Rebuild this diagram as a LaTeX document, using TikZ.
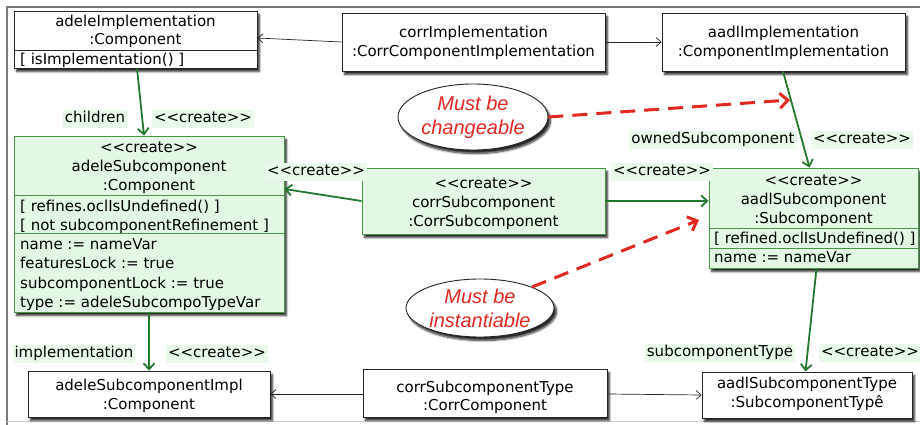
\documentclass[tikz,border=0pt]{standalone}
\usepackage{fontspec}
\newfontfamily\umlfont{DejaVu Sans}[Ligatures=TeXOff]
\newfontfamily\notefont{Liberation Sans}
\usetikzlibrary{arrows.meta,shapes.geometric,shadows.blur}
\definecolor{umlgreen}{RGB}{70,150,70}
\definecolor{umlfill}{RGB}{228,246,228}
\definecolor{tagfill}{RGB}{234,250,234}
\definecolor{linkgreen}{RGB}{35,120,45}
\definecolor{notered}{RGB}{226,40,32}
\definecolor{framegray}{RGB}{120,120,120}

\begin{document}
\begin{tikzpicture}[x=1pt,y=-1pt,
  boxshadow/.style={blur shadow={shadow xshift=2.5pt,shadow yshift=-3.5pt,shadow blur steps=8,shadow blur radius=2pt,shadow opacity=85}},
  objbox/.style={draw=black!85,line width=0.9pt,fill=white,boxshadow,inner sep=0pt},
  newbox/.style={draw=umlgreen,line width=0.9pt,fill=umlfill,boxshadow,inner sep=0pt},
  divider/.style={draw=black!85,line width=0.7pt},
  gdivider/.style={draw=umlgreen,line width=0.7pt},
  txt/.style={font=\umlfont\fontsize{15}{19}\selectfont,inner sep=0pt,anchor=base},
  txtl/.style={txt,anchor=base west},
  tag/.style={font=\umlfont\fontsize{15}{19}\selectfont,fill=tagfill,inner sep=2pt,text height=11pt,text depth=3.5pt},
  link/.style={draw=black!85,line width=0.7pt,-{Straight Barb[length=5pt,width=9pt]}},
  createlink/.style={draw=linkgreen,line width=1.8pt,-{Straight Barb[length=6pt,width=11pt]}},
  note/.style={ellipse,draw=black!85,line width=0.9pt,fill=white,boxshadow,inner sep=0pt,align=center,
    font=\notefont\itshape\fontsize{20}{24}\selectfont,text=notered},
  noteline/.style={draw=notered,line width=3pt,dash pattern=on 15pt off 9pt,-{Straight Barb[length=8pt,width=15pt]}}
]
\useasboundingbox (0,0) rectangle (920,425);

% page frame
\draw[framegray,line width=1.5pt] (7,425) -- (7,7) -- (920,7);
\draw[black!20,line width=1pt] (7,421) -- (920,421);

% ---- top row
\node[objbox,minimum width=243pt,minimum height=57pt] (adeleImpl) at (135.5,39.5) {};
\node[txt] at (135.5,27) {adeleImplementation};
\node[txt] at (135.5,45) {:Component};
\draw[divider] (adeleImpl.west |- 0,50) -- (adeleImpl.east |- 0,50);
\node[txtl] at (20,65) {[ isImplementation() ]};

\node[objbox,minimum width=263pt,minimum height=58pt] (corrImpl) at (473.5,42) {};
\node[txt] at (473.5,38) {corrImplementation};
\node[txt] at (473.5,57) {:CorrComponentImplementation};

\node[objbox,minimum width=243pt,minimum height=58pt] (aadlImpl) at (783.5,42) {};
\node[txt] at (783.5,38) {aadlImplementation};
\node[txt] at (783.5,57) {:ComponentImplementation};

% ---- middle row
\node[newbox,minimum width=270pt,minimum height=176pt] (adeleSub) at (149,224) {};
\node[txt] at (149,152) {<<create>>};
\node[txt] at (149,171) {adeleSubcomponent};
\node[txt] at (149,190) {:Component};
\draw[gdivider] (adeleSub.west |- 0,195) -- (adeleSub.east |- 0,195);
\node[txtl] at (20,211) {[ refines.oclIsUndefined() ]};
\node[txtl] at (20,230) {[ not subcomponentRefinement ]};
\draw[gdivider] (adeleSub.west |- 0,233) -- (adeleSub.east |- 0,233);
\node[txtl] at (20,249) {name := nameVar};
\node[txtl] at (20,268) {featuresLock := true};
\node[txtl] at (20,288) {subcomponentLock := true};
\node[txtl] at (20,307) {type := adeleSubcompoTypeVar};

\node[newbox,minimum width=243pt,minimum height=66pt] (corrSub) at (483.5,201) {};
\node[txt] at (483.5,188) {<<create>>};
\node[txt] at (483.5,207) {corrSubcomponent};
\node[txt] at (483.5,226) {:CorrSubcomponent};

\node[newbox,minimum width=209pt,minimum height=100pt] (aadlSub) at (813.5,218) {};
\node[txt] at (813.5,185) {<<create>>};
\node[txt] at (813.5,204) {aadlSubcomponent};
\node[txt] at (813.5,223) {:Subcomponent};
\draw[gdivider] (aadlSub.west |- 0,228) -- (aadlSub.east |- 0,228);
\node[txtl] at (714,243) {[ refined.oclIsUndefined() ]};
\draw[gdivider] (aadlSub.west |- 0,248) -- (aadlSub.east |- 0,248);
\node[txtl] at (714,262) {name := nameVar};

% ---- bottom row
\node[objbox,minimum width=242pt,minimum height=46pt] (adeleSubImpl) at (149,394) {};
\node[txt] at (149,390) {adeleSubcomponentImpl};
\node[txt] at (149,409) {:Component};

\node[objbox,minimum width=244pt,minimum height=48pt] (corrSubType) at (485,393) {};
\node[txt] at (485,392) {corrSubcomponentType};
\node[txt] at (485,410) {:CorrComponent};

\node[objbox,minimum width=210pt,minimum height=46pt] (aadlSubType) at (807,395) {};
\node[txt] at (807,388) {aadlSubcomponentType};
\node[txt] at (807,407) {:SubcomponentTypê};

% ---- correspondence links
\draw[link] (corrImpl.west) -- ([yshift=1.5pt]adeleImpl.east);
\draw[link] (corrImpl.east) -- (aadlImpl.west);
\draw[link] ([yshift=-1pt]corrSubType.west) -- (adeleSubImpl.east);
\draw[link] ([yshift=-1pt]corrSubType.east) -- (aadlSubType.west);

% ---- created links
\draw[createlink] ([xshift=1.5pt]adeleImpl.south) -- ([xshift=-5pt]adeleSub.north);
\draw[createlink] (corrSub.west) -- ([yshift=35pt]adeleSub.east);
\draw[createlink] (corrSub.east) -- (aadlSub.west |- corrSub.east);
\draw[createlink] ([xshift=-0.5pt]aadlImpl.south) -- ([xshift=-4pt]aadlSub.north);
\draw[createlink] (adeleSub.south) -- (adeleSubImpl.north);
\draw[createlink] ([xshift=3pt]aadlSub.south) -- ([xshift=-1.5pt]aadlSubType.north);

% ---- role labels
\node[tag] at (95,119) {children};
\node[tag] at (203,119) {<<create>>};
\node[tag] at (316,172) {<<create>>};
\node[tag] at (662,172) {<<create>>};
\node[tag] at (713,140) {ownedSubcomponent};
\node[tag] at (862,140) {<<create>>};
\node[tag] at (74,354) {implementation};
\node[tag] at (217,354) {<<create>>};
\node[tag] at (720,353) {subcomponentType};
\node[tag] at (870,353) {<<create>>};

% ---- notes
\node[note,minimum width=150pt,minimum height=66pt] (chg) at (473,117) {Must be\\changeable};
\node[note,minimum width=148pt,minimum height=58pt] (inst) at (480,308) {Must be\\instantiable};
\coordinate (chgTip) at (790,100);
\coordinate (instTip) at (699,220);
\draw[noteline] (chg.east) -- (chgTip);
\draw[noteline] (inst.22) -- (instTip);
\end{tikzpicture}
\end{document}
